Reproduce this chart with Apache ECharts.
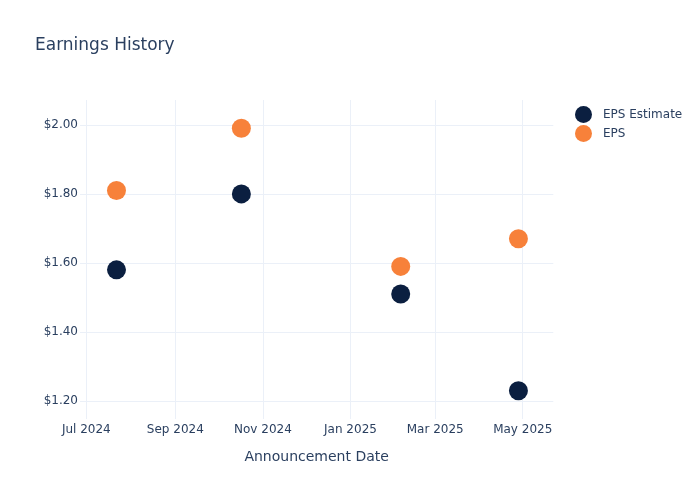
<!DOCTYPE html>
<html>
<head>
<meta charset="utf-8">
<script src="https://cdn.jsdelivr.net/npm/echarts@6/dist/echarts.min.js"></script>
<style>
  html, body { margin: 0; padding: 0; background: #fff; }
  #chart { width: 700px; height: 500px; }
</style>
</head>
<body>
<div id="chart"></div>
<script>
// ---- data ----
const announcementDates = ['2024-07-22T00:00:00', '2024-10-17T00:00:00', '2025-02-05T00:00:00', '2025-04-28T00:00:00'];
const epsEstimate = [1.58, 1.80, 1.51, 1.23];
const epsActual = [1.81, 1.99, 1.59, 1.67];
const monthNames = ['Jan', 'Feb', 'Mar', 'Apr', 'May', 'Jun', 'Jul', 'Aug', 'Sep', 'Oct', 'Nov', 'Dec'];
const seriesNames = ['EPS Estimate', 'EPS'];
const xRange = ['2024-06-26T14:00:00', '2025-05-22T07:00:00'];
const yRange = [1.148, 2.072];

const textColor = '#2a3f5f';
const gridColor = '#ebf0f8';
const fontFamily = '"DejaVu Sans", Verdana, sans-serif';

function toPairs(dates, vals) {
  return dates.map((d, i) => [new Date(d).getTime(), vals[i]]);
}

const chart = echarts.init(document.getElementById('chart'), null, { renderer: 'canvas' });
chart.setOption({
  backgroundColor: '#ffffff',
  animation: false,
  textStyle: { fontFamily: fontFamily },
  title: {
    text: 'Earnings History',
    left: 30,
    top: 32,
    textStyle: { fontFamily: fontFamily, fontSize: 17, fontWeight: 'normal', color: textColor }
  },
  legend: {
    orient: 'vertical',
    left: 570,
    top: 101,
    itemWidth: 17,
    itemHeight: 17,
    itemGap: 2,
    icon: 'circle',
    data: seriesNames,
    textStyle: { fontFamily: fontFamily, fontSize: 12, color: textColor, padding: [0, 0, 0, 6] }
  },
  grid: { left: 80, right: 146.7, top: 100, bottom: 81, containLabel: false },
  xAxis: {
    type: 'time',
    min: new Date(xRange[0]).getTime(),
    max: new Date(xRange[1]).getTime(),
    splitNumber: 5,
    name: 'Announcement Date',
    nameLocation: 'middle',
    nameGap: 31,
    nameTextStyle: { fontFamily: fontFamily, fontSize: 14, color: textColor },
    axisLine: { show: false },
    axisTick: { show: false },
    axisLabel: {
      show: true,
      margin: 5,
      fontFamily: fontFamily,
      fontSize: 12,
      color: textColor,
      showMinLabel: false,
      showMaxLabel: false,
      hideOverlap: false,
      formatter: function (val) {
        const d = new Date(val);
        return monthNames[d.getMonth()] + ' ' + d.getFullYear();
      }
    },
    splitLine: { show: true, showMinLine: false, showMaxLine: false, lineStyle: { color: gridColor, width: 1 } }
  },
  yAxis: {
    type: 'value',
    min: yRange[0],
    max: yRange[1],
    splitNumber: 5,
    axisLine: { show: false },
    axisTick: { show: false },
    axisLabel: {
      margin: 2,
      fontFamily: fontFamily,
      fontSize: 12,
      color: textColor,
      showMinLabel: false,
      showMaxLabel: false,
      formatter: function (v) { return '$' + v.toFixed(2); }
    },
    splitLine: { show: true, showMinLine: false, showMaxLine: false, lineStyle: { color: gridColor, width: 1 } }
  },
  series: [
    {
      name: seriesNames[0],
      type: 'scatter',
      symbol: 'circle',
      symbolSize: 19,
      itemStyle: { color: '#0b1f40', opacity: 1 },
      data: toPairs(announcementDates, epsEstimate)
    },
    {
      name: seriesNames[1],
      type: 'scatter',
      symbol: 'circle',
      symbolSize: 19,
      itemStyle: { color: '#f7813a', opacity: 1 },
      data: toPairs(announcementDates, epsActual)
    }
  ]
});
</script>
</body>
</html>
